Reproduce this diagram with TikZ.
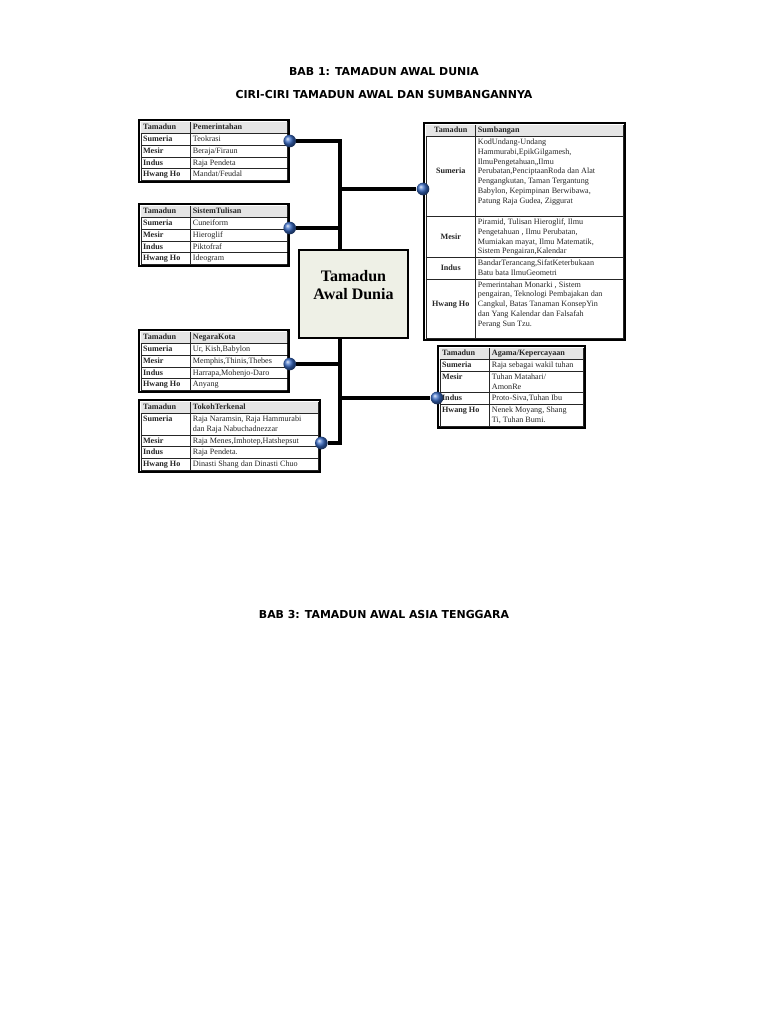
\documentclass[tikz,border=0pt]{standalone}
\usepackage{fontspec}
\setmainfont{Liberation Serif}
\newfontfamily\judul{DejaVu Sans}
\usepackage{array}
\usepackage{colortbl}
\usetikzlibrary{calc,backgrounds}
\definecolor{bolabiru}{RGB}{55,105,195}
\definecolor{kotakpusat}{RGB}{238,240,230}
\newcolumntype{K}{>{\bfseries\raggedright\arraybackslash}p{34pt}}
\newcolumntype{C}{>{\bfseries\centering\arraybackslash}m{34pt}}
\newcolumntype{I}[1]{>{\raggedright\arraybackslash}p{#1}}
\newcolumntype{M}[1]{>{\raggedright\arraybackslash}m{#1}}
\newcommand{\tajuk}[1]{\rowcolor{gray!20}\textbf{Tamadun} & \textbf{#1}\\\hline}
\newcommand{\jarak}[1]{\rule[-#1]{0pt}{#1}}
\renewcommand{\arraystretch}{1.15}
\setlength{\tabcolsep}{1.5pt}

\begin{document}
\begin{tikzpicture}[x=0.75pt, y=-0.75pt,
    tabel/.style={draw, line width=1.8pt, inner sep=1pt, fill=white, text=black!85,
      anchor=north west, font=\fontsize{6.1}{7.3}\selectfont},
    bola/.style={circle, minimum size=9.5pt, inner sep=0pt, shading=ball, ball color=bolabiru},
    garis/.style={line width=2.4pt},
    judulbab/.style={font=\judul\bfseries\fontsize{8.2}{9.5}\selectfont}]
  \useasboundingbox (0,0) rectangle (768,1024);

  \node[judulbab] (bab1) at (384,72) {BAB 1: TAMADUN AWAL DUNIA};
  \node[judulbab] (ciri) at (384,95) {CIRI-CIRI TAMADUN AWAL DAN SUMBANGANNYA};
  \node[judulbab] (bab3) at (384,615) {BAB 3: TAMADUN AWAL ASIA TENGGARA};

  % kotak tengah
  \node[draw, line width=1.2pt, fill=kotakpusat, minimum width=81.75pt, minimum height=66pt,
    align=center, font=\bfseries\fontsize{12}{13.5}\selectfont] (pusat) at (353.5,294)
    {Tamadun\\Awal Dunia\\\mbox{}};

  % jadual sebelah kiri
  \node[tabel] (pemerintahan) at (138,119) {\begin{tabular}{|K|I{68.8pt}|}\hline
    \tajuk{Pemerintahan}
    Sumeria & Teokrasi\\\hline
    Mesir & Beraja/Firaun\\\hline
    Indus & Raja Pendeta\\\hline
    Hwang Ho & Mandat/Feudal\\\hline
  \end{tabular}};
  \node[tabel] (tulisan) at (138,203) {\begin{tabular}{|K|I{68.8pt}|}\hline
    \tajuk{SistemTulisan}
    Sumeria & Cuneiform\\\hline
    Mesir & Hieroglif\\\hline
    Indus & Piktofraf\\\hline
    Hwang Ho & Ideogram\\\hline
  \end{tabular}};
  \node[tabel] (negarakota) at (138,329) {\begin{tabular}{|K|I{68.8pt}|}\hline
    \tajuk{NegaraKota}
    Sumeria & Ur, Kish,Babylon\\\hline
    Mesir & Memphis,Thinis,Thebes\\\hline
    Indus & Harrapa,Mohenjo-Daro\\\hline
    Hwang Ho & Anyang\\\hline
  \end{tabular}};
  \node[tabel] (tokoh) at (138,399) {\begin{tabular}{|K|I{92.5pt}|}\hline
    \tajuk{TokohTerkenal}
    Sumeria & Raja Naramsin, Raja Hammurabi\newline dan Raja Nabuchadnezzar\\\hline
    Mesir & Raja Menes,Imhotep,Hatshepsut\\\hline
    Indus & Raja Pendeta.\\\hline
    Hwang Ho & Dinasti Shang dan Dinasti Chuo\\\hline
  \end{tabular}};

  % jadual sebelah kanan
  \node[tabel] (sumbangan) at (423,122) {\begin{tabular}{|C|M{107.5pt}|}\hline
    \tajuk{Sumbangan}
    Sumeria & KodUndang-Undang\newline Hammurabi,EpikGilgamesh,\newline IlmuPengetahuan,,Ilmu\newline
      Perubatan,PenciptaanRoda dan Alat\newline Pengangkutan, Taman Tergantung\newline
      Babylon, Kepimpinan Berwibawa,\newline Patung Raja Gudea, Ziggurat\jarak{10pt}\\\hline
    Mesir & Piramid, Tulisan Hieroglif, Ilmu\newline Pengetahuan , Ilmu Perubatan,\newline
      Mumiakan mayat, Ilmu Matematik,\newline Sistem Pengairan,Kalendar\\\hline
    Indus & BandarTerancang,SifatKeterbukaan\newline Batu bata IlmuGeometri\\\hline
    Hwang Ho & Pemerintahan Monarki , Sistem\newline pengairan, Teknologi Pembajakan dan\newline
      Cangkul, Batas Tanaman KonsepYin\newline dan Yang Kalendar dan Falsafah\newline
      Perang Sun Tzu.\jarak{9pt}\\\hline
  \end{tabular}};
  \node[tabel] (kepercayaan) at (437,345) {\begin{tabular}{|K|I{67pt}|}\hline
    \tajuk{Agama/Kepercayaan}
    Sumeria & Raja sebagai wakil tuhan\\\hline
    Mesir & Tuhan Matahari/\newline AmonRe\\\hline
    Indus & Proto-Siva,Tuhan Ibu\\\hline
    Hwang Ho & Nenek Moyang, Shang\newline Ti, Tuhan Bumi.\\\hline
  \end{tabular}};

  % bola penyambung
  \node[bola] (b1) at (pemerintahan.east |- 0,141) {};
  \node[bola] (b2) at (tulisan.east |- 0,228) {};
  \node[bola] (b3) at (negarakota.east |- 0,364) {};
  \node[bola] (b4) at (tokoh.east |- 0,443) {};
  \node[bola] (r1) at (sumbangan.west |- 0,189) {};
  \node[bola] (r2) at (kepercayaan.west |- 0,398) {};

  \coordinate (j1) at (340,141);
  \coordinate (j2) at (340,189);
  \coordinate (j3) at (340,228);
  \coordinate (j4) at (340,364);
  \coordinate (j5) at (340,398);
  \coordinate (j6) at (340,443);

  \begin{scope}[on background layer]
    \fill[white] (0,0) rectangle (768,1024);
    \draw[garis] (b1) -- (j1) -- (pusat.north -| j1);
    \draw[garis] (j2) -- (r1);
    \draw[garis] (b2) -- (j3);
    \draw[garis] (pusat.south -| j4) -- (j6) -- (b4);
    \draw[garis] (b3) -- (j4);
    \draw[garis] (j5) -- (r2);
  \end{scope}
\end{tikzpicture}
\end{document}
